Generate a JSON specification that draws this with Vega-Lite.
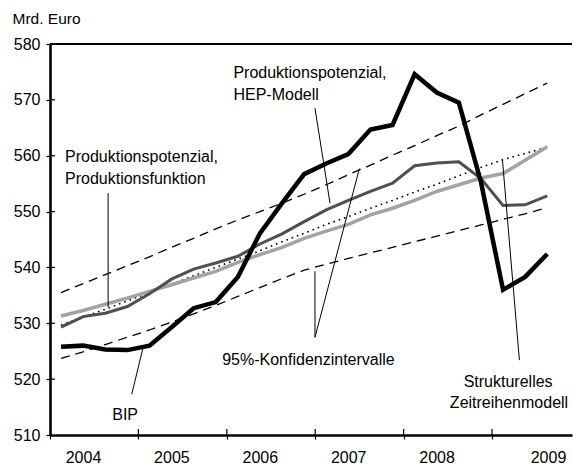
{
  "$schema": "https://vega.github.io/schema/vega-lite/v6.json",
  "width": 522,
  "height": 391,
  "autosize": {"type": "none"},
  "padding": {"left": 50, "top": 44, "right": 1, "bottom": 31},
  "background": "white",
  "config": {"view": {"stroke": null}, "font": "Liberation Sans"},
  "datasets": {
    "series": [
      {"t": 0, "bip": 525.8, "hep": 529.3, "pf": 531.3, "stm": 529.7, "ob": 535.5, "ub": 523.7},
      {"t": 1, "bip": 526.0, "hep": 531.2, "pf": 532.3, "stm": 531.1, "ob": 537.1, "ub": 524.9},
      {"t": 2, "bip": 525.3, "hep": 531.8, "pf": 533.4, "stm": 532.5, "ob": 538.7, "ub": 526.2},
      {"t": 3, "bip": 525.2, "hep": 533.0, "pf": 534.5, "stm": 534.0, "ob": 540.3, "ub": 527.5},
      {"t": 4, "bip": 526.0, "hep": 535.3, "pf": 535.7, "stm": 535.5, "ob": 541.9, "ub": 528.8},
      {"t": 5, "bip": 529.3, "hep": 537.9, "pf": 536.9, "stm": 537.0, "ob": 543.6, "ub": 530.2},
      {"t": 6, "bip": 532.7, "hep": 539.7, "pf": 538.1, "stm": 538.5, "ob": 545.2, "ub": 531.7},
      {"t": 7, "bip": 533.8, "hep": 540.8, "pf": 539.3, "stm": 540.0, "ob": 546.9, "ub": 533.2},
      {"t": 8, "bip": 538.3, "hep": 542.0, "pf": 540.9, "stm": 541.5, "ob": 548.5, "ub": 534.8},
      {"t": 9, "bip": 546.1, "hep": 544.2, "pf": 542.3, "stm": 543.0, "ob": 550.0, "ub": 536.4},
      {"t": 10, "bip": 551.5, "hep": 546.0, "pf": 543.6, "stm": 544.6, "ob": 551.5, "ub": 538.0},
      {"t": 11, "bip": 556.7, "hep": 548.2, "pf": 545.2, "stm": 546.1, "ob": 553.1, "ub": 539.5},
      {"t": 12, "bip": 558.6, "hep": 550.3, "pf": 546.5, "stm": 547.7, "ob": 554.8, "ub": 540.6},
      {"t": 13, "bip": 560.3, "hep": 552.0, "pf": 547.7, "stm": 549.1, "ob": 556.6, "ub": 541.6},
      {"t": 14, "bip": 564.7, "hep": 553.6, "pf": 549.4, "stm": 550.6, "ob": 558.3, "ub": 542.6},
      {"t": 15, "bip": 565.5, "hep": 555.1, "pf": 550.6, "stm": 552.0, "ob": 560.1, "ub": 543.6},
      {"t": 16, "bip": 574.6, "hep": 558.2, "pf": 552.0, "stm": 553.5, "ob": 561.8, "ub": 544.6},
      {"t": 17, "bip": 571.3, "hep": 558.7, "pf": 553.6, "stm": 554.9, "ob": 563.6, "ub": 545.6},
      {"t": 18, "bip": 569.5, "hep": 558.9, "pf": 554.8, "stm": 556.4, "ob": 565.3, "ub": 546.6},
      {"t": 19, "bip": 555.3, "hep": 555.9, "pf": 556.0, "stm": 557.9, "ob": 567.3, "ub": 547.6},
      {"t": 20, "bip": 536.0, "hep": 551.1, "pf": 556.8, "stm": 559.3, "ob": 569.2, "ub": 548.6},
      {"t": 21, "bip": 538.3, "hep": 551.2, "pf": 559.2, "stm": 560.4, "ob": 571.1, "ub": 549.6},
      {"t": 22, "bip": 542.4, "hep": 552.8, "pf": 561.6, "stm": 561.5, "ob": 573.0, "ub": 550.7}
    ],
    "notes": [
      {"t": 0.18, "v": 558.79, "label": "Produktionspotenzial,", "a": "l"},
      {"t": 0.18, "v": 554.94, "label": "Produktionsfunktion", "a": "l"},
      {"t": 7.8, "v": 573.91, "label": "Produktionspotenzial,", "a": "l"},
      {"t": 7.8, "v": 570.06, "label": "HEP-Modell", "a": "l"},
      {"t": 7.29, "v": 522.53, "label": "95%-Konfidenzintervalle", "a": "l"},
      {"t": 20.23, "v": 518.6, "label": "Strukturelles", "a": "c"},
      {"t": 20.27, "v": 514.75, "label": "Zeitreihenmodell", "a": "c"},
      {"t": 2.9, "v": 512.6, "label": "BIP", "a": "c"}
    ],
    "leaders": [
      {"t": 2.13, "v": 553.3, "t2": 2.13, "v2": 532.9},
      {"t": 11.49, "v": 568.5, "t2": 12.17, "v2": 551.5},
      {"t": 11.49, "v": 527.5, "t2": 11.49, "v2": 539.3},
      {"t": 11.49, "v": 527.5, "t2": 13.5, "v2": 557.7},
      {"t": 19.97, "v": 559.4, "t2": 20.74, "v2": 523.4},
      {"t": 3.2, "v": 517.3, "t2": 3.72, "v2": 525.8}
    ],
    "xticks": [{"b": 3.5}, {"b": 7.5}, {"b": 11.5}, {"b": 15.5}, {"b": 19.5}],
    "yticks": [{"yv": 520}, {"yv": 530}, {"yv": 540}, {"yv": 550}, {"yv": 560}, {"yv": 570}]
  },
  "layer": [
    {
      "data": {"name": "series"},
      "mark": {"type": "line", "stroke": "black", "strokeWidth": 1.3, "strokeDash": [9, 6]},
      "encoding": {
        "x": {"field": "t", "type": "quantitative", "scale": {"domain": [-0.5, 23.12], "nice": false, "zero": false},
          "axis": {"values": [-0.5, 3.5, 7.5, 11.5, 15.5, 19.5], "labelExpr": "'' + (2004 + round((datum.value + 0.5) / 4))",
            "title": null, "grid": false, "domainColor": "black", "domainWidth": 2.3, "tickColor": "black", "tickWidth": 1.2, "tickSize": 4,
            "labelFont": "Liberation Sans", "labelFontSize": 16, "labelColor": "black", "labelPadding": 10, "labelAlign": "center", "labelBaseline": "top",
            "labelOffset": {"condition": {"test": "datum.value > 19", "value": 56}, "value": 33},
            "labelFlush": false, "labelOverlap": false, "labelBound": false}},
        "y": {"field": "ob", "type": "quantitative", "scale": {"domain": [510, 580], "nice": false, "zero": false},
          "axis": {"values": [510, 520, 530, 540, 550, 560, 570, 580], "title": "Mrd. Euro", "titleAngle": 0, "titleX": -38, "titleY": -21,
            "titleAlign": "left", "titleBaseline": "alphabetic", "titleFont": "Liberation Sans", "titleFontSize": 15.5, "titleFontWeight": "normal", "titleColor": "black",
            "grid": false, "domainColor": "black", "domainWidth": 2.6, "tickColor": "black", "tickWidth": 1.2, "tickSize": 4,
            "labelFont": "Liberation Sans", "labelFontSize": 16, "labelColor": "black", "labelPadding": 6, "labelOverlap": false, "labelFlush": false, "labelBound": false}}
      }
    },
    {
      "data": {"name": "series"},
      "mark": {"type": "line", "stroke": "black", "strokeWidth": 1.3, "strokeDash": [9, 6]},
      "encoding": {
        "x": {"field": "t", "type": "quantitative"},
        "y": {"field": "ub", "type": "quantitative"}
      }
    },
    {
      "data": {"name": "series"},
      "mark": {"type": "line", "stroke": "black", "strokeWidth": 1.6, "strokeDash": [1.6, 4]},
      "encoding": {
        "x": {"field": "t", "type": "quantitative"},
        "y": {"field": "stm", "type": "quantitative"}
      }
    },
    {
      "data": {"name": "series"},
      "mark": {"type": "line", "stroke": "#a3a3a3", "strokeWidth": 3.5},
      "encoding": {
        "x": {"field": "t", "type": "quantitative"},
        "y": {"field": "pf", "type": "quantitative"}
      }
    },
    {
      "data": {"name": "series"},
      "mark": {"type": "line", "stroke": "#4f4f4f", "strokeWidth": 3},
      "encoding": {
        "x": {"field": "t", "type": "quantitative"},
        "y": {"field": "hep", "type": "quantitative"}
      }
    },
    {
      "data": {"name": "series"},
      "mark": {"type": "line", "stroke": "black", "strokeWidth": 4.5, "strokeJoin": "miter"},
      "encoding": {
        "x": {"field": "t", "type": "quantitative"},
        "y": {"field": "bip", "type": "quantitative"}
      }
    },
    {
      "data": {"name": "leaders"},
      "mark": {"type": "rule", "stroke": "black", "strokeWidth": 1},
      "encoding": {
        "x": {"field": "t", "type": "quantitative"},
        "y": {"field": "v", "type": "quantitative"},
        "x2": {"field": "t2"},
        "y2": {"field": "v2"}
      }
    },
    {
      "data": {"name": "xticks"},
      "mark": {"type": "rule", "stroke": "black", "strokeWidth": 1.2},
      "encoding": {
        "x": {"field": "b", "type": "quantitative"},
        "y": {"datum": 510, "type": "quantitative"},
        "y2": {"datum": 511.07}
      }
    },
    {
      "data": {"name": "yticks"},
      "mark": {"type": "rule", "stroke": "black", "strokeWidth": 1.2},
      "encoding": {
        "y": {"field": "yv", "type": "quantitative"},
        "x": {"datum": -0.5, "type": "quantitative"},
        "x2": {"datum": -0.27}
      }
    },
    {
      "data": {"name": "yticks"},
      "mark": {"type": "rule", "stroke": "black", "strokeWidth": 1.5},
      "encoding": {
        "y": {"datum": 580, "type": "quantitative"}
      }
    },
    {
      "data": {"name": "notes"},
      "transform": [{"filter": "datum.a == 'l'"}],
      "mark": {"type": "text", "align": "left", "baseline": "alphabetic", "font": "Liberation Sans", "fontSize": 16, "color": "black"},
      "encoding": {
        "x": {"field": "t", "type": "quantitative"},
        "y": {"field": "v", "type": "quantitative"},
        "text": {"field": "label"}
      }
    },
    {
      "data": {"name": "notes"},
      "transform": [{"filter": "datum.a == 'c'"}],
      "mark": {"type": "text", "align": "center", "baseline": "alphabetic", "font": "Liberation Sans", "fontSize": 16, "color": "black"},
      "encoding": {
        "x": {"field": "t", "type": "quantitative"},
        "y": {"field": "v", "type": "quantitative"},
        "text": {"field": "label"}
      }
    }
  ]
}
